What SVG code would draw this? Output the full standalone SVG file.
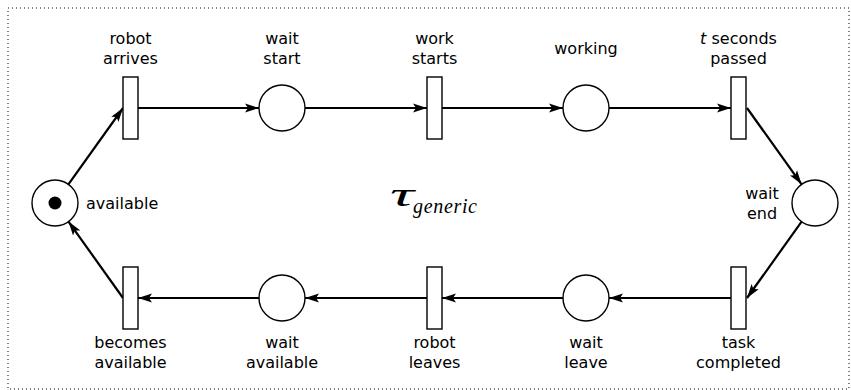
<svg xmlns="http://www.w3.org/2000/svg" width="851" height="390" viewBox="0 0 851 390">
<style>
.place{fill:#fff;stroke:#000;stroke-width:1.4}
.trans{fill:#fff;stroke:#000;stroke-width:1.4}
.lbl{font-family:"DejaVu Sans",sans-serif;font-size:16px;fill:#000;text-anchor:middle}
.arc{fill:none;stroke:#000;stroke-width:2.2;marker-end:url(#ah)}
</style>
<defs>
<marker id="ah" markerUnits="userSpaceOnUse" markerWidth="15" markerHeight="10" refX="14" refY="5" orient="auto" viewBox="0 0 15 10">
<path d="M0,0.6 L14,5 L0,9.4 L3,5 Z" fill="#000"/>
</marker>
</defs>
<rect x="8" y="8" width="841" height="381" fill="none" stroke="#000" stroke-width="1" stroke-dasharray="1 3"/>
<g id="connectors">
<line class="arc" x1="68.4" y1="184.3" x2="123" y2="108"/>
<line class="arc" x1="138" y1="108" x2="259" y2="108"/>
<line class="arc" x1="305" y1="108" x2="427" y2="108"/>
<line class="arc" x1="442" y1="108" x2="563" y2="108"/>
<line class="arc" x1="609" y1="108" x2="731" y2="108"/>
<line class="arc" x1="747" y1="108" x2="801.6" y2="184.3"/>
<line class="arc" x1="801.6" y1="221.7" x2="747" y2="298"/>
<line class="arc" x1="731" y1="298" x2="609" y2="298"/>
<line class="arc" x1="563" y1="298" x2="442" y2="298"/>
<line class="arc" x1="427" y1="298" x2="305" y2="298"/>
<line class="arc" x1="259" y1="298" x2="138" y2="298"/>
<line class="arc" x1="123" y1="298" x2="68.5" y2="221.6"/>
</g>
<g id="available">
<circle class="place" cx="55" cy="203" r="23"/>
<circle cx="55" cy="203" r="6.5" fill="#000"/>
<text class="lbl" x="86" y="209" style="text-anchor:start">available</text>
</g>
<g id="robot-arrives">
<rect class="trans" x="123" y="77" width="15" height="62"/>
<text class="lbl" x="130.5" y="44">robot</text>
<text class="lbl" x="130.5" y="64">arrives</text>
</g>
<g id="wait-start">
<circle class="place" cx="282" cy="108" r="23"/>
<text class="lbl" x="282" y="44">wait</text>
<text class="lbl" x="282" y="64">start</text>
</g>
<g id="work-starts">
<rect class="trans" x="427" y="77" width="15" height="62"/>
<text class="lbl" x="434.5" y="44">work</text>
<text class="lbl" x="434.5" y="64">starts</text>
</g>
<g id="working">
<circle class="place" cx="586" cy="108" r="23"/>
<text class="lbl" x="586" y="54">working</text>
</g>
<g id="t-seconds-passed">
<rect class="trans" x="731" y="77" width="15" height="62"/>
<text class="lbl" x="738.5" y="44"><tspan font-style="italic">t</tspan> seconds</text>
<text class="lbl" x="738.5" y="64">passed</text>
</g>
<g id="wait-end">
<circle class="place" cx="815" cy="203" r="23"/>
<text class="lbl" x="762" y="199">wait</text>
<text class="lbl" x="762" y="219">end</text>
</g>
<g id="task-completed">
<rect class="trans" x="731" y="267" width="15" height="62"/>
<text class="lbl" x="738.5" y="348">task</text>
<text class="lbl" x="738.5" y="368">completed</text>
</g>
<g id="wait-leave">
<circle class="place" cx="586" cy="298" r="23"/>
<text class="lbl" x="586" y="348">wait</text>
<text class="lbl" x="586" y="368">leave</text>
</g>
<g id="robot-leaves">
<rect class="trans" x="427" y="267" width="15" height="62"/>
<text class="lbl" x="434.5" y="348">robot</text>
<text class="lbl" x="434.5" y="368">leaves</text>
</g>
<g id="wait-available">
<circle class="place" cx="282" cy="298" r="23"/>
<text class="lbl" x="282" y="348">wait</text>
<text class="lbl" x="282" y="368">available</text>
</g>
<g id="becomes-available">
<rect class="trans" x="123" y="267" width="15" height="62"/>
<text class="lbl" x="130.5" y="348">becomes</text>
<text class="lbl" x="130.5" y="368">available</text>
</g>
<g id="title">
<text x="390" y="206" font-family="'Liberation Serif',serif" font-style="italic" font-size="34" fill="#000" textLength="24" lengthAdjust="spacingAndGlyphs">τ</text>
<text x="413" y="213" font-family="'Liberation Serif',serif" font-style="italic" font-size="20" fill="#000" textLength="64" lengthAdjust="spacing">generic</text>
</g>
</svg>
